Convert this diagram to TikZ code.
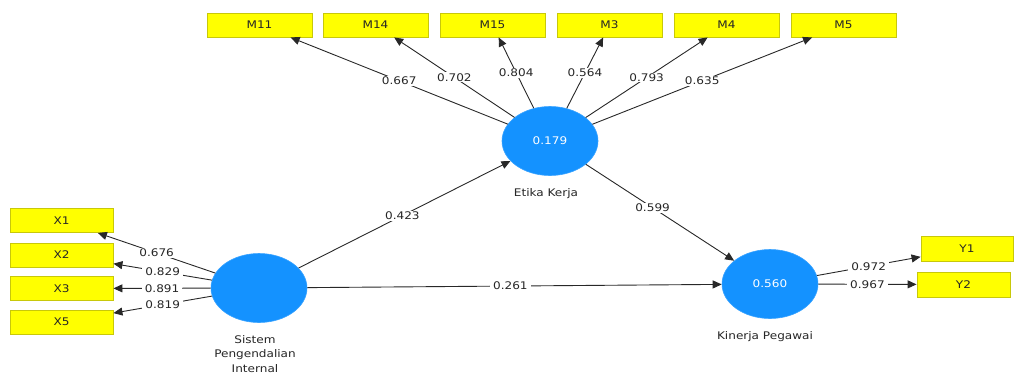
\documentclass[tikz,border=0pt]{standalone}
\usepackage{fontspec}
\newfontfamily\lbl{DejaVu Sans}[FakeStretch=1.15]
\usetikzlibrary{shapes.geometric,arrows.meta}
\definecolor{lvblue}{RGB}{20,146,255}
\definecolor{indyel}{RGB}{255,255,0}
\definecolor{indbord}{RGB}{200,200,10}
\definecolor{linegray}{RGB}{40,40,40}
\tikzset{
  indbox/.style={rectangle, fill=indyel, draw=indbord, line width=0.9pt, minimum width=105pt, minimum height=24pt, inner sep=0pt, font=\lbl\fontsize{10.5}{12}\selectfont, text=black!85},
  latent/.style={ellipse, fill=lvblue, draw=lvblue!85!white, line width=0.6pt, minimum width=96pt, minimum height=69pt, inner sep=0pt, text=white, font=\lbl\fontsize{10.5}{12}\selectfont},
  lvname/.style={font=\lbl\fontsize{10.5}{14.5}\selectfont, text=black!85, align=center, inner sep=0pt},
  conn/.style={draw=linegray, line width=0.9pt, -{Triangle[length=9pt,width=8pt]}},
  coef/.style={fill=white, inner xsep=3pt, inner ysep=1pt, font=\lbl\fontsize{10.5}{12}\selectfont, text=black!85}
}
\begin{document}
\begin{tikzpicture}[x=1pt,y=-1pt]
\useasboundingbox (0,0) rectangle (1016,378);
% indicator boxes top
\node[indbox] (M11) at (259.5,25) {M11};
\node[indbox] (M14) at (375.5,25) {M14};
\node[indbox] (M15) at (492.5,25) {M15};
\node[indbox] (M3)  at (609.5,25) {M3};
\node[indbox] (M4)  at (726.5,25) {M4};
\node[indbox] (M5)  at (843.5,25) {M5};
% left boxes
\node[indbox, minimum width=103pt] (X1) at (61.5,220.5) {X1};
\node[indbox, minimum width=103pt] (X2) at (61.5,255) {X2};
\node[indbox, minimum width=103pt] (X3) at (61.5,288.5) {X3};
\node[indbox, minimum width=103pt] (X5) at (61.5,322) {X5};
% right boxes
\node[indbox, minimum width=92pt, minimum height=25pt] (Y1) at (967,248.5) {Y1};
\node[indbox, minimum width=93pt, minimum height=25pt] (Y2) at (963.5,284.5) {Y2};
% latent variables
\node[latent] (ek) at (550,141) {0.179};
\node[latent] (sp) at (259,288) {};
\node[latent] (kp) at (770,284) {0.560};
\node[lvname] (ekn) at (546,194) {Etika Kerja};
\node[lvname, anchor=north] (spn) at (255,335) {Sistem\\Pengendalian\\Internal};
\node[lvname] (kpn) at (765,337) {Kinerja Pegawai};
% outer loadings
\draw[conn] (ek) -- node[coef, pos=0.5] {0.667} (M11);
\draw[conn] (ek) -- node[coef, pos=0.5] {0.702} (M14);
\draw[conn] (ek) -- node[coef, pos=0.5] {0.804} (M15);
\draw[conn] (ek) -- node[coef, pos=0.5] {0.564} (M3);
\draw[conn] (ek) -- node[coef, pos=0.5] {0.793} (M4);
\draw[conn] (ek) -- node[coef, pos=0.5] {0.635} (M5);
\draw[conn] (sp) -- node[coef, pos=0.5] {0.676} (X1);
\draw[conn] (sp) -- node[coef, pos=0.5] {0.829} (X2);
\draw[conn] (sp) -- node[coef, pos=0.5] {0.891} (X3);
\draw[conn] (sp) -- node[coef, pos=0.5] {0.819} (X5);
\draw[conn] (kp) -- node[coef, pos=0.5] {0.972} (Y1);
\draw[conn] (kp) -- node[coef, pos=0.5] {0.967} (Y2);
% path coefficients
\draw[conn] (sp) -- node[coef, pos=0.49] {0.423} (ek);
\draw[conn] (ek) -- node[coef, pos=0.45] {0.599} (kp);
\draw[conn] (sp) -- node[coef, pos=0.49] {0.261} (kp);
\end{tikzpicture}
\end{document}
